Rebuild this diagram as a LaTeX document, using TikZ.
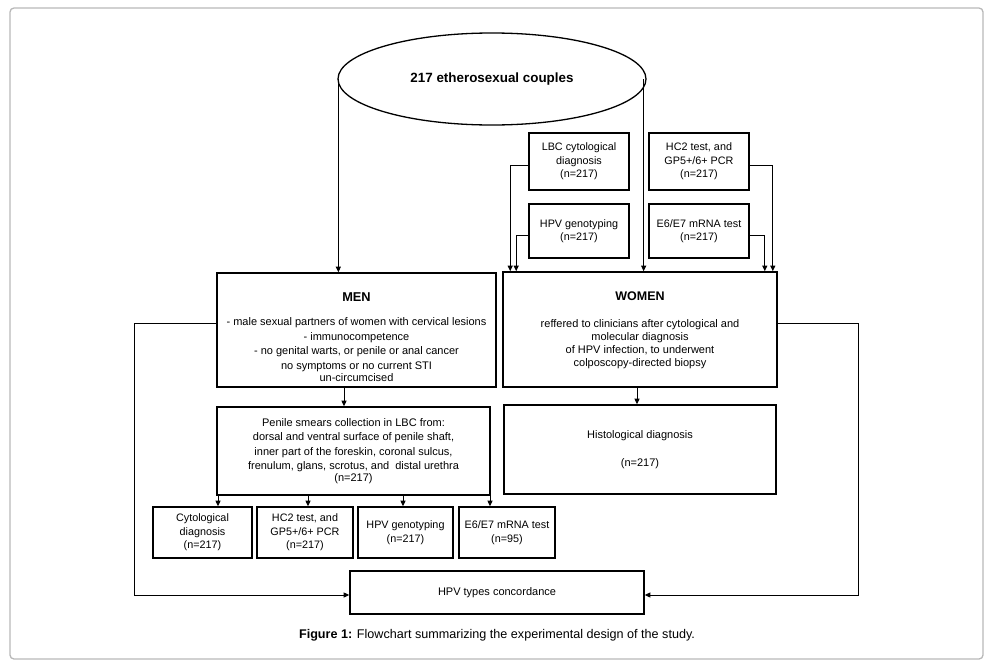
\documentclass[tikz,border=0pt]{standalone}
\usepackage{fontspec}
\setmainfont{Liberation Sans}
\usetikzlibrary{shapes.geometric,arrows.meta}
\begin{document}
\begin{tikzpicture}[x=1pt,y=-1pt,
  frame/.style={draw, line width=1.6pt, inner sep=0pt},
  box/.style={frame, align=center, font=\fontsize{10.8}{13.5}\selectfont},
  txt/.style={inner sep=0pt, align=center, font=\fontsize{11}{14.5}\selectfont},
  conn/.style={line width=0.9pt, -{Triangle[length=5.5pt,width=5pt]}}
]
\useasboundingbox (0,0) rectangle (993,667);
\draw[black!28, line width=1.3pt, rounded corners=4pt] (10,8) rectangle (983,659);

% ellipse
\node[ellipse, draw, line width=1.3pt, minimum width=308pt, minimum height=92pt, inner sep=0pt,
      font=\bfseries\fontsize{13.4}{15}\selectfont] (couples) at (492,79) {217 etherosexual couples};

% women tests
\node[box, minimum width=100pt, minimum height=57pt] (lbc) at (579,161.5) {LBC cytological\\diagnosis\\(n=217)};
\node[box, minimum width=100pt, minimum height=57pt] (hctop) at (699,161.5) {HC2 test, and\\GP5+/6+ PCR\\(n=217)};
\node[box, minimum width=100pt, minimum height=54pt] (gentop) at (579,231) {HPV genotyping\\(n=217)};
\node[box, minimum width=100pt, minimum height=54pt] (e6top) at (699,231) {E6/E7 mRNA test\\(n=217)};

% MEN / WOMEN
\node[frame, minimum width=279pt, minimum height=114pt] (men) at (356.5,330) {};
\node[txt] (menT) at (356.5,337) {{\bfseries\fontsize{12.8}{14}\selectfont MEN}\\[10pt]
  - male sexual partners of women with cervical lesions\\
  - immunocompetence\\
  - no genital warts, or penile or anal cancer\\
  no symptoms or no current STI\\[-2pt]
  un-circumcised};
\node[frame, minimum width=274pt, minimum height=115pt] (women) at (640,329.5) {};
\node[txt, font=\fontsize{11}{13}\selectfont] (womenT) at (640,330.5) {{\bfseries\fontsize{12.5}{14}\selectfont WOMEN}\\[14pt]
  reffered to clinicians after cytological and\\
  molecular diagnosis\\
  of HPV infection, to underwent\\
  colposcopy-directed biopsy};

% Penile & histological
\node[box, minimum width=273pt, minimum height=88pt, font=\fontsize{11}{14.5}\selectfont] (pen) at (353.5,451) {Penile smears collection in LBC from:\\
  dorsal and ventral surface of penile shaft,\\
  inner part of the foreskin, coronal sulcus,\\
  frenulum, glans, scrotus, and\ \ distal urethra\\[-2.5pt]
  (n=217)};
\node[box, minimum width=272pt, minimum height=89pt, font=\fontsize{11}{13.5}\selectfont] (hist) at (640,449.5) {Histological diagnosis\\[15pt](n=217)};

% bottom row
\node[box, minimum width=99pt, minimum height=51pt] (cyto) at (202.5,532.5) {Cytological\\diagnosis\\(n=217)};
\node[box, minimum width=96pt, minimum height=51pt] (hcbot) at (305,532.5) {HC2 test, and\\GP5+/6+ PCR\\(n=217)};
\node[box, minimum width=95pt, minimum height=51pt] (genbot) at (405.5,532.5) {HPV genotyping\\(n=217)};
\node[box, minimum width=96pt, minimum height=51pt] (e6bot) at (507,532.5) {E6/E7 mRNA test\\(n=95)};

\node[frame, minimum width=294pt, minimum height=43pt, font=\fontsize{11}{13}\selectfont] (conc) at (497,592.5) {HPV types concordance};

% caption
\node[inner sep=0pt, font=\fontsize{12.6}{14}\selectfont] (cap) at (497,635) {\textbf{Figure 1:} Flowchart summarizing the experimental design of the study.};

% connectors
\draw[conn] ([xshift=1pt]couples.west) -- ([xshift=1pt]couples.west |- men.north);
\draw[conn] ([xshift=-3pt]couples.east) -- ([xshift=-3pt]couples.east |- women.north);

\draw[conn] ([yshift=-3.5pt]lbc.west) -| ([xshift=8pt]women.north west);
\draw[conn] ([yshift=-4pt]gentop.west) -| ([xshift=14pt]women.north west);
\draw[conn] ([yshift=-3.5pt]hctop.east) -| ([xshift=-5pt]women.north east);
\draw[conn] ([yshift=-4pt]e6top.east) -| ([xshift=-13pt]women.north east);

\draw[conn] ([xshift=-12.5pt]men.south) -- ([xshift=-9.5pt]pen.north);
\draw[conn] ([xshift=-3pt]women.south) -- ([xshift=-3pt]hist.north);

\draw[conn] ([xshift=15.5pt]cyto.north |- pen.south) -- ([xshift=15.5pt]cyto.north);
\draw[conn] ([xshift=3pt]hcbot.north |- pen.south) -- ([xshift=3pt]hcbot.north);
\draw[conn] ([xshift=-2.5pt]genbot.north |- pen.south) -- ([xshift=-2.5pt]genbot.north);
\draw[conn] ([xshift=-17pt]e6bot.north |- pen.south) -- ([xshift=-17pt]e6bot.north);

\draw[conn] ([yshift=7pt]men.west) -- ++(-82,0) |- ([yshift=-2.5pt]conc.west);
\draw[conn] ([yshift=6.5pt]women.east) -- ++(81,0) |- ([yshift=-2.5pt]conc.east);
\end{tikzpicture}
\end{document}
